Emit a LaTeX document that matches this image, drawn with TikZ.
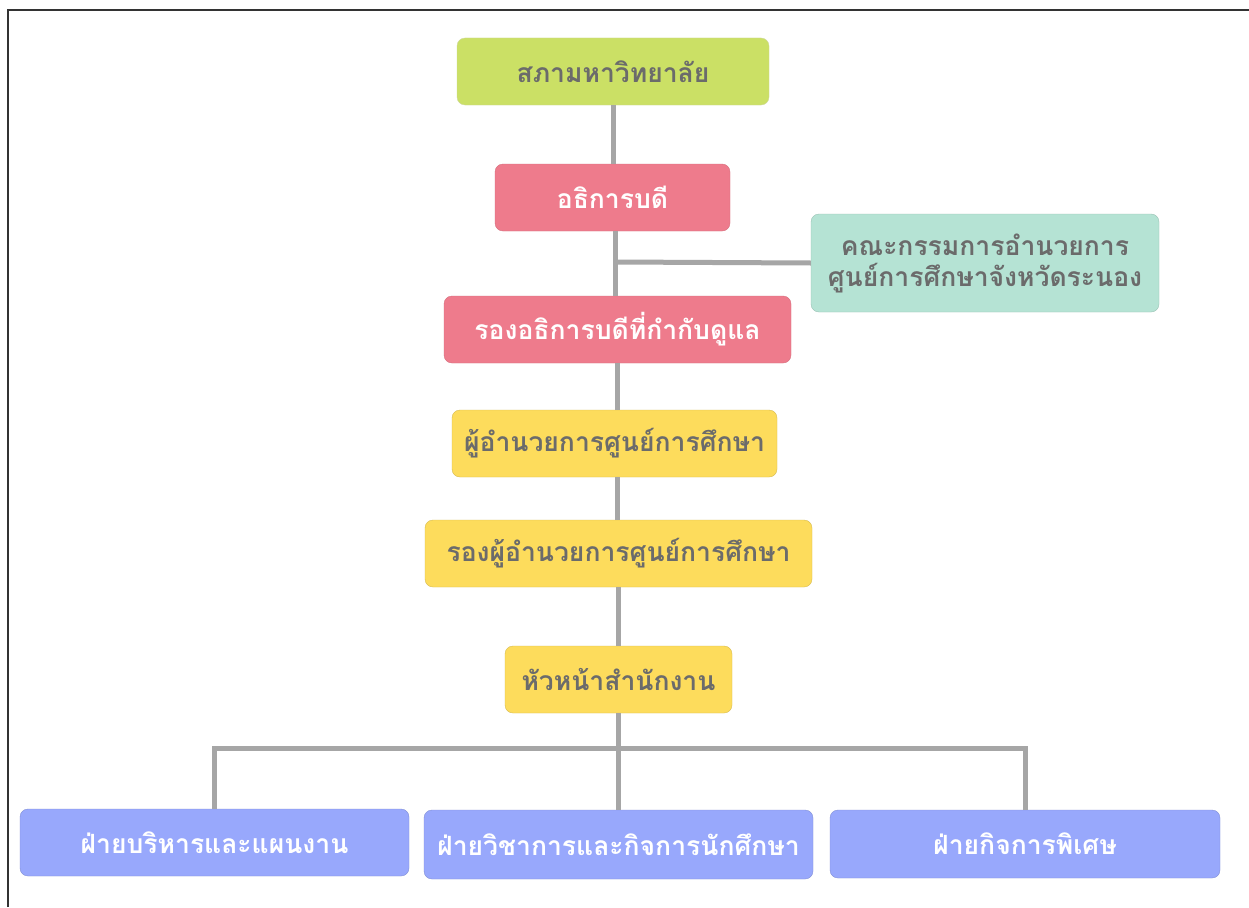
\documentclass[tikz,border=0pt]{standalone}
\usepackage{fontspec}
\newfontfamily\thaifont[Script=Thai]{Loma}
\definecolor{cgreen}{HTML}{CBE065}
\definecolor{cred}{HTML}{EE7B8C}
\definecolor{cmint}{HTML}{B5E3D4}
\definecolor{cyellow}{HTML}{FDDC5C}
\definecolor{cblue}{HTML}{98A8FC}
\definecolor{ctext}{HTML}{6B6B6B}
\definecolor{cline}{HTML}{A6A6A6}
\tikzset{
  box/.style={rounded corners=8pt, minimum height=67pt, inner sep=0pt, align=center,
    font=\thaifont\bfseries\fontsize{26.5}{31}\selectfont, text=ctext},
  gbox/.style={box, fill=cgreen, draw=cgreen!85!black!60},
  rbox/.style={box, fill=cred, draw=cred!90!black, text=white},
  mbox/.style={box, fill=cmint, draw=cmint!85!black},
  ybox/.style={box, fill=cyellow, draw=cyellow!85!black},
  bbox/.style={box, fill=cblue, draw=cblue!85!black, text=white},
  conn/.style={draw=cline, line width=5pt},
}
\begin{document}
\begin{tikzpicture}[x=1pt,y=-1pt]
\useasboundingbox (0,0) rectangle (1249,907);
\fill[white] (0,0) rectangle (1249,907);
\draw[black!80, line width=1.5pt] (8,907) -- (8,10) -- (1249,10);
% connectors first (behind boxes)
\coordinate (j1) at (615,262);
\coordinate (bus) at (618,748);
\coordinate (t1) at (613,100);
\coordinate (t2) at (613,170);
\coordinate (t3) at (615,225);
\coordinate (t4) at (615,300);
\coordinate (t5) at (617,360);
\coordinate (t6) at (617,415);
\coordinate (t7) at (617,470);
\coordinate (t8) at (617,525);
\coordinate (t9) at (618,580);
\coordinate (t10) at (618,650);
\coordinate (t11) at (618,705);
% nodes
\node[gbox, minimum width=312pt] (uni) at (613,71.5) {สภามหาวิทยาลัย};
\node[rbox, minimum width=235pt] (rector) at (612.5,197.5) {อธิการบดี};
\node[mbox, minimum width=348pt, minimum height=98pt] (board) at (985,263) {คณะกรรมการอำนวยการ\\ศูนย์การศึกษาจังหวัดระนอง};
\node[rbox, minimum width=347pt] (vrector) at (617.5,329.5) {รองอธิการบดีที่กำกับดูแล};
\node[ybox, minimum width=325pt] (dir) at (614.5,443.5) {ผู้อำนวยการศูนย์การศึกษา};
\node[ybox, minimum width=387pt] (vdir) at (618.5,553.5) {รองผู้อำนวยการศูนย์การศึกษา};
\node[ybox, minimum width=227pt] (head) at (618.5,679.5) {หัวหน้าสำนักงาน};
\node[bbox, minimum width=389pt] (b1) at (214.5,842.5) {ฝ่ายบริหารและแผนงาน};
\node[bbox, minimum width=389pt, minimum height=69pt] (b2) at (618.5,844.5) {ฝ่ายวิชาการและกิจการนักศึกษา};
\node[bbox, minimum width=390pt, minimum height=68pt] (b3) at (1025,844) {ฝ่ายกิจการพิเศษ};
% connectors
\draw[conn] (uni.south -| t1) -- (rector.north -| t1);
\draw[conn] (rector.south -| t3) -- (vrector.north -| t3);
\draw[conn] (j1) -- (board.west);
\draw[conn] (vrector.south -| t5) -- (dir.north -| t5);
\draw[conn] (dir.south -| t7) -- (vdir.north -| t7);
\draw[conn] (vdir.south -| t9) -- (head.north -| t9);
\draw[conn] (head.south -| t11) -- (b2.north -| t11);
\draw[conn] (b1.north) -- (b1.north |- bus) -- (b3.north |- bus) -- (b3.north);
\end{tikzpicture}
\end{document}
